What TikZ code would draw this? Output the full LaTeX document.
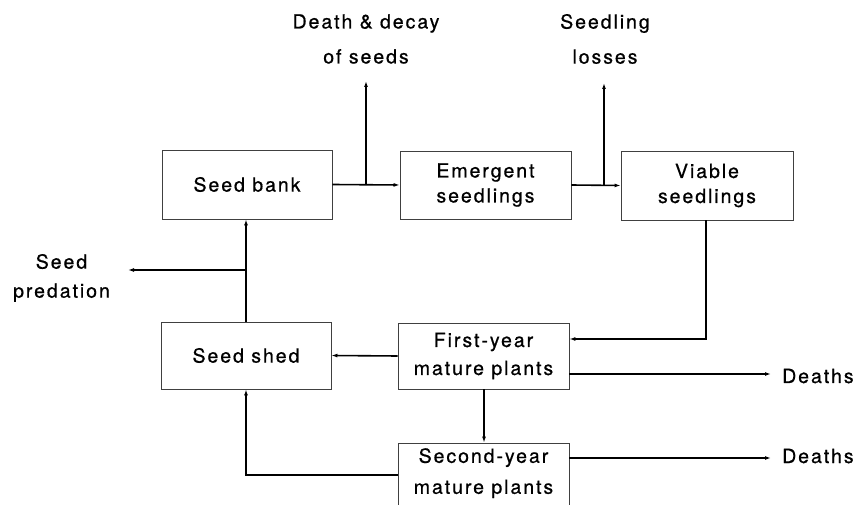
\documentclass[tikz,border=0pt]{standalone}
\usepackage{fontspec}
\setmainfont{TeX Gyre Heros}[LetterSpace=10,FakeBold=0.7]
\usetikzlibrary{arrows.meta,calc}
\begin{document}
\begin{tikzpicture}[x=1pt,y=-1pt,
  box/.style={draw=black!75, line width=0.8pt, rectangle, inner sep=0pt, align=center, font=\fontsize{19.5}{25}\selectfont},
  lbl/.style={inner sep=0pt, align=center, font=\fontsize{19.5}{35}\selectfont},
  conn/.style={line width=1.6pt, black},
  arr/.style={conn, -{Latex[length=6pt,width=4pt]}}
]
\useasboundingbox (0,0) rectangle (855,505);

\node[box, minimum width=170pt, minimum height=69pt] (sb) at (247,184.5) {Seed bank};
\node[box, minimum width=171pt, minimum height=68pt] (em) at (485.5,185) {Emergent\\seedlings};
\node[box, minimum width=172pt, minimum height=69pt] (vs) at (707,185.5) {Viable\\seedlings};
\node[box, minimum width=170pt, minimum height=67pt] (ss) at (246,355.5) {Seed shed};
\node[box, minimum width=171pt, minimum height=66pt, font=\fontsize{19.5}{28}\selectfont] (fy) at (483.5,356) {First-year\\mature plants};
\node[box, minimum width=171pt, minimum height=70pt, text depth=14pt, font=\fontsize{19.5}{31}\selectfont] (sy) at (483.5,478) {Second-year\\mature plants};

\node[lbl] (dd) at (366,39) {Death \& decay\\of seeds};
\node[lbl] (sl) at (605,39) {Seedling\\losses};
\node[lbl, font=\fontsize{19.5}{29}\selectfont] (sp) at (61.5,278) {Seed\\predation};
\node[lbl, anchor=base west] (d1) at (782,383) {Deaths};
\node[lbl, anchor=base west] (d2) at (782,463) {Deaths};

\coordinate (j1) at (366,184.5);
\coordinate (t1) at (366,81);
\coordinate (j2) at (604,185);
\coordinate (t2) at (604,83);
\coordinate (c1) at (706,339);
\coordinate (j3) at (246,270);
\coordinate (t3) at (128,270);
\coordinate (e1) at (771,374);
\coordinate (e2) at (771,458);
\coordinate (c2) at (246,475);

\draw[arr] (sb.east) -- (em.west);
\draw[arr] (j1) -- (t1);
\draw[arr] (em.east) -- (vs.west);
\draw[arr] (j2) -- (t2);
\draw[arr] (vs.south -| c1) -- (c1) -- (fy.east |- c1);
\draw[arr] (fy.west) -- (ss.east);
\draw[arr] (ss.north) -- (ss.north |- sb.south);
\draw[arr] (j3) -- (t3);
\draw[arr] (fy.east |- e1) -- (e1);
\draw[arr] (sy.east |- e2) -- (e2);
\draw[arr] (fy.south -| 484,0) -- (sy.north -| 484,0);
\draw[arr] (sy.west |- c2) -- (c2) -- (ss.south -| c2);
\end{tikzpicture}
\end{document}
